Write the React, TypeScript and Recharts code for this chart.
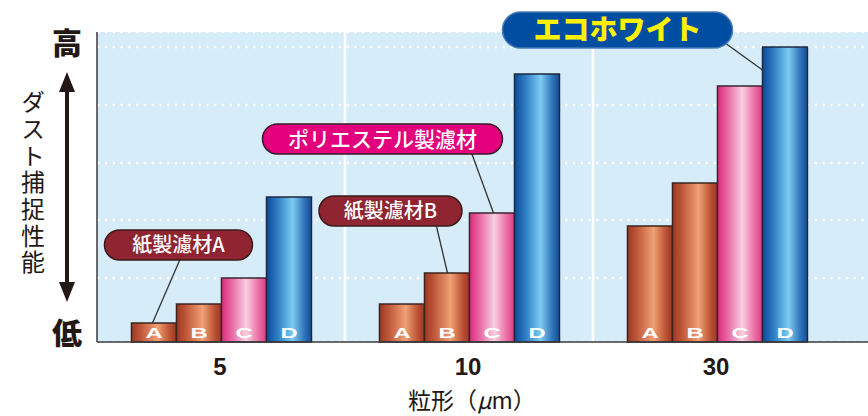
import React from "react";
import { Bar, BarChart, CartesianGrid, LabelList, XAxis, YAxis } from "recharts";

// 粒形 (µm) groups and dust capture values per filter
const groups = ["5", "10", "30"];
const paperA = [19, 38, 116];
const paperB = [38, 69, 159];
const polyester = [64, 129, 256];
const ecoWhite = [145, 268, 295];
const yTicks = [0, 64, 122, 179, 237, 295];

const data = groups.map((g, i) => ({
  group: g,
  A: paperA[i],
  B: paperB[i],
  C: polyester[i],
  D: ecoWhite[i],
}));

const JP = '"Noto Sans CJK JP", "Noto Sans", sans-serif';

function BarLetter(letter: string) {
  return (props: any) => {
    const { x, y, width, height } = props;
    const cx = Number(x) + Number(width) / 2;
    const by = Number(y) + Number(height) - 4;
    return (
      <text
        transform={`translate(${cx},${by}) scale(1.7,1)`}
        textAnchor="middle"
        fill="#fff"
        fontSize={14}
        fontWeight={700}
        fontFamily="Liberation Sans, Arial, sans-serif"
      >
        {letter}
      </text>
    );
  };
}

interface CalloutCfg {
  index: number;
  text: string;
  fill: string;
  stroke: string;
  color: string;
  fontSize: number;
  fontWeight: number;
  boxW: number;
  boxH: number;
  boxDx: number; // pill center relative to bar left
  boxDy: number; // pill bottom relative to bar top
  lineDx: number; // line start relative to pill center
  endDx: number; // line end relative to bar left
  endDy: number; // line end relative to bar top
}

function Callout(cfg: CalloutCfg) {
  return (props: any) => {
    if (props.index !== cfg.index) return null;
    const bx = Number(props.x);
    const by = Number(props.y);
    const cx = bx + cfg.boxDx;
    const bottom = by + cfg.boxDy;
    const top = bottom - cfg.boxH;
    return (
      <g>
        <line
          x1={cx + cfg.lineDx}
          y1={bottom - 4}
          x2={bx + cfg.endDx}
          y2={by + cfg.endDy}
          stroke="#333"
          strokeWidth={1.3}
        />
        <rect
          x={cx - cfg.boxW / 2}
          y={top}
          width={cfg.boxW}
          height={cfg.boxH}
          rx={cfg.boxH / 2}
          fill={cfg.fill}
          stroke={cfg.stroke}
          strokeWidth={1.5}
        />
        <text
          x={cx}
          y={top + cfg.boxH / 2}
          dy="0.36em"
          textAnchor="middle"
          fill={cfg.color}
          fontSize={cfg.fontSize}
          fontWeight={cfg.fontWeight}
          fontFamily={JP}
        >
          {cfg.text}
        </text>
      </g>
    );
  };
}

function YTick(props: any) {
  const { y, payload } = props;
  let ch = "";
  if (payload.value === 295) ch = "高";
  if (payload.value === 0) ch = "低";
  if (!ch) return null;
  return (
    <text
      x={67}
      y={payload.value === 0 ? y - 9 : y - 4}
      dy="0.36em"
      textAnchor="middle"
      fill="#231815"
      fontSize={30}
      fontWeight={900}
      fontFamily={JP}
    >
      {ch}
    </text>
  );
}

function YTitle() {
  return (
    <g>
      <text
        x={33}
        y={90}
        fill="#231815"
        fontSize={24}
        letterSpacing={2.7}
        fontFamily={JP}
        style={{ writingMode: "vertical-rl" }}
      >
        ダスト捕捉性能
      </text>
      <line x1={67} y1={88} x2={67} y2={286} stroke="#231815" strokeWidth={4} />
      <polygon points="67,72 59,92 75,92" fill="#231815" />
      <polygon points="67,302 59,282 75,282" fill="#231815" />
    </g>
  );
}

function XTick(props: any) {
  const { x, y, payload } = props;
  return (
    <text
      x={x - 2}
      y={y + 25}
      textAnchor="middle"
      fill="#231815"
      fontSize={24}
      fontWeight={700}
      fontFamily="Liberation Sans, Arial, sans-serif"
    >
      {payload.value}
    </text>
  );
}

function XTitle() {
  return (
    <text x={472} y={409} textAnchor="middle" fill="#231815" fontSize={23} fontFamily={JP}>
      粒形（<tspan fontStyle="italic">μ</tspan>m）
    </text>
  );
}

function Grad({ id, stops }: { id: string; stops: [number, string][] }) {
  return (
    <linearGradient id={id} x1="0" y1="0" x2="1" y2="0">
      {stops.map(([o, c], i) => (
        <stop key={i} offset={o} stopColor={c} />
      ))}
    </linearGradient>
  );
}

export default function App() {
  return (
    <div style={{ position: "absolute", left: 0, top: 0, width: 868, height: 416, background: "#fff" }}>
      <BarChart
        width={868}
        height={416}
        data={data}
        margin={{ top: 32, right: 0, bottom: 0, left: 0 }}
        barCategoryGap="13.5%"
        barGap={0}
      >
        <defs>
          <Grad
            id="brown"
            stops={[
              [0, "#9c3823"],
              [0.2, "#bd5638"],
              [0.58, "#f0a074"],
              [0.85, "#bb5234"],
              [1, "#9a3622"],
            ]}
          />
          <Grad
            id="pink"
            stops={[
              [0, "#dc2a7c"],
              [0.25, "#ea6ea6"],
              [0.55, "#f7d0e2"],
              [0.85, "#ea67a0"],
              [1, "#e03c88"],
            ]}
          />
          <Grad
            id="blue"
            stops={[
              [0, "#0c4a98"],
              [0.25, "#2f7ec4"],
              [0.58, "#7ccbf2"],
              [0.85, "#2d72b8"],
              [1, "#124c98"],
            ]}
          />
        </defs>
        <CartesianGrid
          fill="#d6ecf8"
          stroke="#ffffff"
          strokeWidth={2.4}
          strokeDasharray="2.4 5.4"
          vertical={false}
        />
        <CartesianGrid
          stroke="#ffffff"
          strokeWidth={2.5}
          horizontal={false}
          verticalCoordinatesGenerator={({ offset }: any) => {
            const band = (offset.width - 27) / groups.length;
            return [offset.left + band, offset.left + band * 2];
          }}
        />
        <XAxis
          dataKey="group"
          height={74}
          padding={{ left: 1, right: 26 }}
          axisLine={{ stroke: "#3a3a3a", strokeWidth: 1.5 }}
          tickLine={false}
          tick={<XTick />}
          label={{ content: <XTitle /> }}
        />
        <YAxis
          width={97}
          domain={[0, 310]}
          ticks={yTicks}
          interval={0}
          axisLine={{ stroke: "#3a3a3a", strokeWidth: 1.5 }}
          tickLine={false}
          tick={<YTick />}
          label={{ content: <YTitle /> }}
        />
        <Bar dataKey="A" fill="url(#brown)" stroke="#3b2420" strokeWidth={1.5} isAnimationActive={false}>
          <LabelList dataKey="A" content={BarLetter("A")} />
          <LabelList
            dataKey="A"
            content={Callout({
              index: 0,
              text: "紙製濾材A",
              fill: "#8e2530",
              stroke: "#3a1a1a",
              color: "#ffffff",
              fontSize: 20,
              fontWeight: 500,
              boxW: 148,
              boxH: 30,
              boxDx: 47,
              boxDy: -63,
              lineDx: 3,
              endDx: 21,
              endDy: 0,
            })}
          />
        </Bar>
        <Bar dataKey="B" fill="url(#brown)" stroke="#3b2420" strokeWidth={1.5} isAnimationActive={false}>
          <LabelList dataKey="B" content={BarLetter("B")} />
          <LabelList
            dataKey="B"
            content={Callout({
              index: 1,
              text: "紙製濾材B",
              fill: "#8e2530",
              stroke: "#3a1a1a",
              color: "#ffffff",
              fontSize: 20,
              fontWeight: 500,
              boxW: 143,
              boxH: 30,
              boxDx: -34,
              boxDy: -47,
              lineDx: 45,
              endDx: 23,
              endDy: 0,
            })}
          />
        </Bar>
        <Bar dataKey="C" fill="url(#pink)" stroke="#3b2430" strokeWidth={1.5} isAnimationActive={false}>
          <LabelList dataKey="C" content={BarLetter("C")} />
          <LabelList
            dataKey="C"
            content={Callout({
              index: 1,
              text: "ポリエステル製濾材",
              fill: "#e2007c",
              stroke: "#3a1a2a",
              color: "#ffffff",
              fontSize: 21,
              fontWeight: 500,
              boxW: 240,
              boxH: 30,
              boxDx: -87,
              boxDy: -59,
              lineDx: 88,
              endDx: 24,
              endDy: 0,
            })}
          />
        </Bar>
        <Bar dataKey="D" fill="url(#blue)" stroke="#1c2a40" strokeWidth={1.5} isAnimationActive={false}>
          <LabelList dataKey="D" content={BarLetter("D")} />
          <LabelList
            dataKey="D"
            content={Callout({
              index: 2,
              text: "エコホワイト",
              fill: "#004ea2",
              stroke: "#4a7ab8",
              color: "#fff100",
              fontSize: 28,
              fontWeight: 900,
              boxW: 230,
              boxH: 36,
              boxDx: -145,
              boxDy: 1,
              lineDx: 109,
              endDx: 0,
              endDy: 23,
            })}
          />
        </Bar>
      </BarChart>
    </div>
  );
}
